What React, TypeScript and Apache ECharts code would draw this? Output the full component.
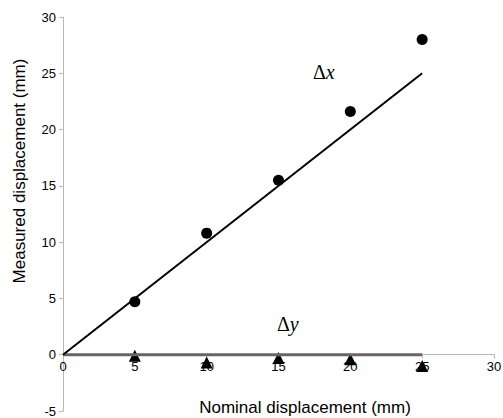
import React, { useEffect, useRef } from "react";
import * as echarts from "echarts";

const nominal = [5, 10, 15, 20, 25];
const dxMeasured = [4.7, 10.8, 15.5, 21.6, 28.0];
const dyMeasured = [-0.1, -0.7, -0.3, -0.4, -1.0];
const dxFit = [[0, 0], [25, 25]];
const dyFit = [[0, 0], [25, 0]];
const yTicks = { min: -5, max: 30, interval: 5 };
const xTicks = { min: 0, max: 30, interval: 5 };

const GRID = { left: 63, right: 9, top: 17, bottom: 7 };
const H = 418;

export default function App() {
  const ref = useRef<HTMLDivElement>(null);
  useEffect(() => {
    const chart = echarts.init(ref.current!, null, { renderer: "svg" });
    const font = "'Liberation Sans', Arial, sans-serif";
    const serif = "'Liberation Serif', 'Times New Roman', serif";
    const gridH = H - GRID.top - GRID.bottom;
    const zeroOffset = (gridH * (0 - yTicks.min)) / (yTicks.max - yTicks.min);
    const rich = {
      d: { fontFamily: serif, fontSize: 20, fill: "#000" },
      v: { fontFamily: serif, fontSize: 20, fontStyle: "italic", fill: "#000" },
    };
    chart.setOption({
      animation: false,
      grid: { ...GRID, containLabel: false, outerBoundsMode: "none" },
      xAxis: {
        type: "value",
        min: xTicks.min,
        max: xTicks.max,
        interval: xTicks.interval,
        offset: -zeroOffset,
        splitLine: { show: false },
        axisLine: { onZero: false, lineStyle: { color: "#b8b8b8", width: 1 } },
        axisTick: { show: true, inside: false, length: 4, lineStyle: { color: "#b8b8b8" } },
        axisLabel: { color: "#000", fontSize: 13, fontFamily: font, margin: 5 },
      },
      yAxis: {
        type: "value",
        min: yTicks.min,
        max: yTicks.max,
        interval: yTicks.interval,
        splitLine: { show: false },
        axisLine: { show: true, onZero: false, lineStyle: { color: "#b8b8b8", width: 1 } },
        axisTick: { show: true, length: 4, lineStyle: { color: "#b8b8b8" } },
        axisLabel: { color: "#000", fontSize: 13, fontFamily: font, margin: 7 },
      },
      graphic: [
        {
          type: "text",
          x: 305,
          y: 407,
          style: {
            text: "Nominal displacement (mm)",
            fill: "#000",
            font: `17px ${font}`,
            align: "center",
            verticalAlign: "middle",
          },
        },
        {
          type: "text",
          x: 19,
          y: 171,
          rotation: Math.PI / 2,
          style: {
            text: "Measured displacement (mm)",
            fill: "#000",
            font: `17px ${font}`,
            align: "center",
            verticalAlign: "middle",
          },
        },
        {
          type: "text",
          left: 313,
          top: 62,
          style: { text: "{d|Δ}{v|x}", rich },
        },
        {
          type: "text",
          left: 277,
          top: 314,
          style: { text: "{d|Δ}{v|y}", rich },
        },
      ],
      series: [
        {
          type: "line",
          data: dyFit,
          showSymbol: false,
          lineStyle: { color: "#666", width: 3 },
          silent: true,
        },
        {
          type: "line",
          data: dxFit,
          showSymbol: false,
          lineStyle: { color: "#000", width: 2 },
          silent: true,
        },
        {
          type: "scatter",
          data: nominal.map((x, i) => [x, dxMeasured[i]]),
          symbol: "circle",
          symbolSize: 11,
          itemStyle: { color: "#000", opacity: 1 },
        },
        {
          type: "scatter",
          data: nominal.map((x, i) => [x, dyMeasured[i]]),
          symbol: "triangle",
          symbolSize: 12,
          itemStyle: { color: "#000", opacity: 1 },
        },
      ],
    });
    return () => chart.dispose();
  }, []);
  return <div ref={ref} style={{ width: 503, height: 418, position: "absolute", left: 0, top: 0 }} />;
}
